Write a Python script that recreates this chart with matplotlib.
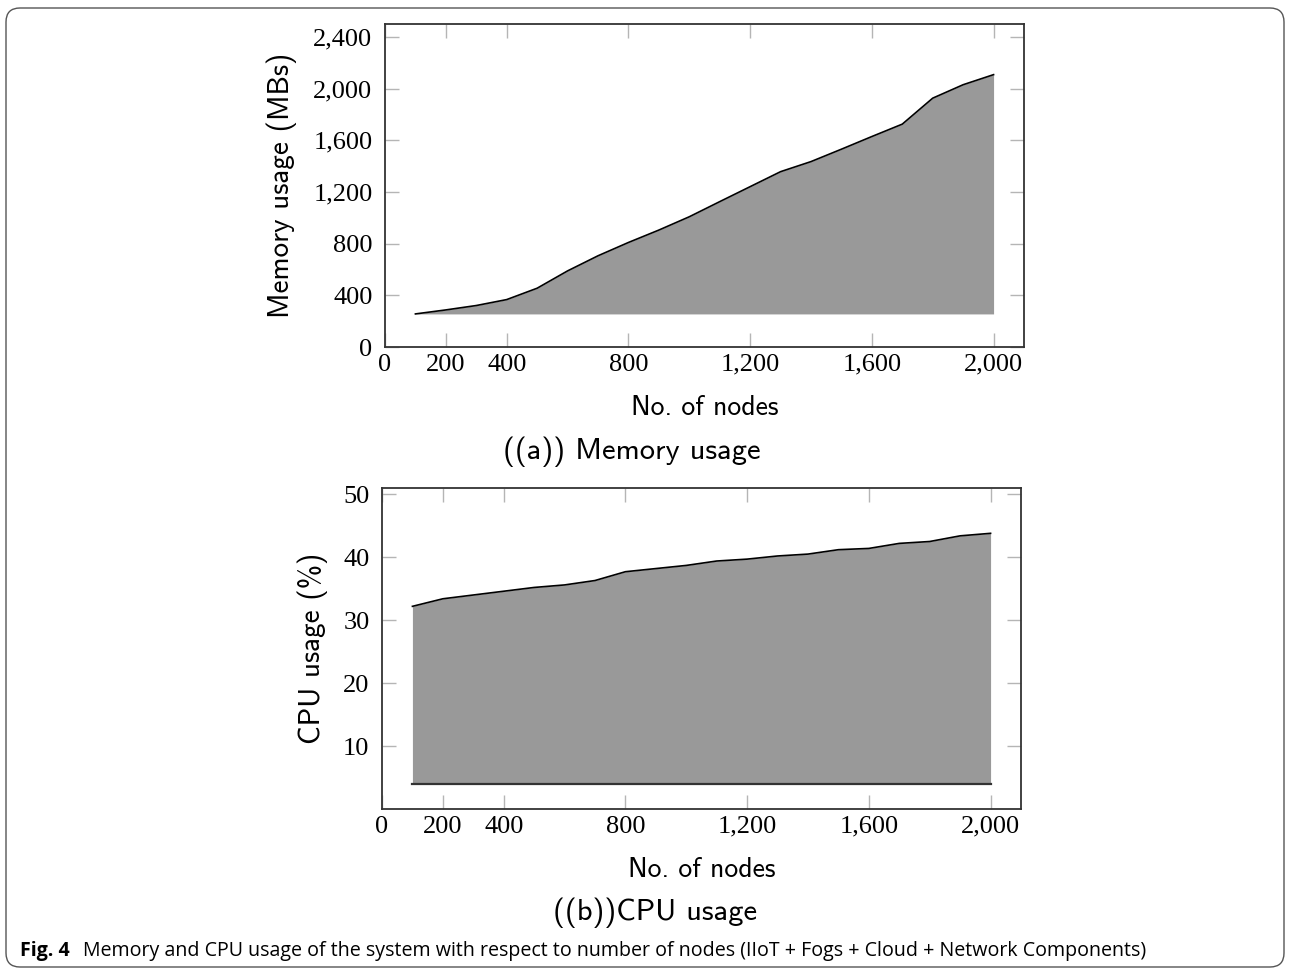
import numpy as np
import matplotlib
matplotlib.use('Agg')
from matplotlib import pyplot as plt
from matplotlib.patches import FancyBboxPatch
from matplotlib.transforms import IdentityTransform

# data
nodes = [100, 200, 300, 400, 500, 600, 700, 800, 900, 1000,
         1100, 1200, 1300, 1400, 1500, 1600, 1700, 1800, 1900, 2000]
memory_mb = [256, 287, 321, 367, 455, 589, 706, 809, 905, 1008,
             1125, 1241, 1357, 1435, 1531, 1629, 1725, 1926, 2030, 2108]
cpu_pct = [32.2, 33.4, 34.0, 34.6, 35.2, 35.6, 36.3, 37.7, 38.2, 38.7,
           39.4, 39.7, 40.2, 40.5, 41.2, 41.4, 42.2, 42.5, 43.4, 43.8]
cpu_base = 4.0

x_ticks = [0, 200, 400, 800, 1200, 1600, 2000]
x_ticklabels = ['0', '200', '400', '800', '1,200', '1,600', '2,000']
mem_ticks = [0, 400, 800, 1200, 1600, 2000, 2400]
mem_ticklabels = ['0', '400', '800', '1,200', '1,600', '2,000', '2,400']
cpu_ticks = [10, 20, 30, 40, 50]
cpu_ticklabels = ['10', '20', '30', '40', '50']

W, H = 1290., 971.
fill_col = '#999999'
tick_font = 'Liberation Serif'
label_font = 'cmss10'
lab_size = 20

fig = plt.figure(figsize=(12.9, 9.71), dpi=100)

def box(l, t, r, b):
    return [l/W, 1-b/H, (r-l)/W, (b-t)/H]

def style(ax, xlim, ylim):
    ax.set_xlim(*xlim)
    ax.set_ylim(*ylim)
    for s in ax.spines.values():
        s.set_color('#333333')
        s.set_linewidth(1.3)
    ax.tick_params(which='both', direction='in', length=10, width=1,
                   color='#b5b5b5', top=True, right=True, labelsize=19)
    ax.tick_params(axis='y', pad=9)
    ax.tick_params(axis='x', pad=5)
    for lab in ax.get_xticklabels() + ax.get_yticklabels():
        lab.set_fontfamily(tick_font)

#########################################################################
# (a) memory usage
ax1 = fig.add_axes(box(385, 24, 1024, 347))
ax1.fill_between(nodes, memory_mb, memory_mb[0], color=fill_col, lw=0)
ax1.plot(nodes, memory_mb, color='k', lw=1.2)
ax1.set_xticks(x_ticks)
ax1.set_xticklabels(x_ticklabels)
ax1.set_yticks(mem_ticks)
ax1.set_yticklabels(mem_ticklabels)
style(ax1, (0, 2100), (0, 2500))
ax1.set_xlabel('No. of nodes', fontfamily=label_font, fontsize=lab_size, labelpad=14)
ax1.set_ylabel('Memory usage (MBs)', fontfamily=label_font, fontsize=21)
ax1.yaxis.set_label_coords(-0.138, 0.5)

#########################################################################
# (b) cpu usage
ax2 = fig.add_axes(box(382, 488, 1021, 809))
ax2.fill_between(nodes, cpu_pct, cpu_base, color=fill_col, lw=0)
ax2.plot(nodes, cpu_pct, color='k', lw=1.2)
ax2.plot(nodes, [cpu_base]*len(nodes), color='#333333', lw=1.6)
ax2.set_xticks(x_ticks)
ax2.set_xticklabels(x_ticklabels)
ax2.set_yticks(cpu_ticks)
ax2.set_yticklabels(cpu_ticklabels)
style(ax2, (0, 2100), (0, 51))
ax2.set_xlabel('No. of nodes', fontfamily=label_font, fontsize=lab_size, labelpad=14)
ax2.set_ylabel('CPU usage (%)', fontfamily=label_font, fontsize=21)
ax2.yaxis.set_label_coords(-0.085, 0.5)

# sub captions
fig.text(632/W, 1-452/H, '((a)) Memory usage', fontfamily=label_font,
         fontsize=22, ha='center', va='center')
fig.text(655/W, 1-913/H, '((b))CPU usage', fontfamily=label_font,
         fontsize=22, ha='center', va='center')

# figure caption
fig.text(20/W, 1-951/H, 'Fig. 4', fontfamily='Open Sans', fontweight='bold',
         fontsize=14.1, ha='left', va='center')
fig.text(83/W, 1-951/H,
         'Memory and CPU usage of the system with respect to number of nodes '
         '(IIoT + Fogs + Cloud + Network Components)',
         fontfamily='Open Sans', fontsize=14.1, ha='left', va='center')

# outer frame
frame = FancyBboxPatch((6, 4), 1278, 959, boxstyle='round,pad=0,rounding_size=14',
                       transform=IdentityTransform(), fill=False,
                       ec='#555555', lw=1.0)
fig.patches.append(frame)

fig.savefig('out.png', dpi=100)
